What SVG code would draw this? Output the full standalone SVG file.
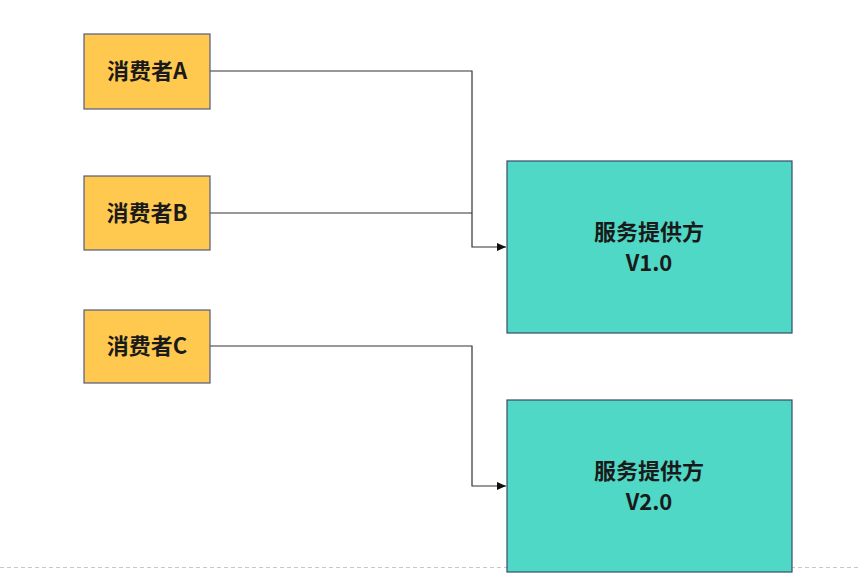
<svg xmlns="http://www.w3.org/2000/svg" width="861" height="573" viewBox="0 0 861 573">
<style>
.c{fill:#ffc94f;stroke:#545b80;stroke-width:1.2}
.p{fill:#4fd8c5;stroke:#3a4a6a;stroke-width:1.2}
.t{font-family:"Noto Sans CJK SC","Liberation Sans",sans-serif;font-weight:bold;font-size:22px;fill:#1a1a1a;text-anchor:middle}
.l{fill:none;stroke:#333;stroke-width:1.2}
</style>
<defs>
<marker id="ar" markerWidth="10" markerHeight="8" refX="9" refY="4" orient="auto" markerUnits="userSpaceOnUse">
<path d="M0,0 L9,4 L0,8 Z" fill="#111"/>
</marker>
</defs>
<rect width="861" height="573" fill="#fff"/>
<line x1="0" y1="567.5" x2="861" y2="567.5" stroke="#c8c8c8" stroke-dasharray="4,3"/>
<g id="connectors">
<path class="l" d="M210,71 H472 V247 H506" marker-end="url(#ar)"/>
<path class="l" d="M210,213 H472"/>
<path class="l" d="M210,346 H472 V486 H506" marker-end="url(#ar)"/>
</g>
<g id="consumerA"><rect class="c" x="84" y="34" width="126" height="75"/><text class="t" x="147" y="79">消费者A</text></g>
<g id="consumerB"><rect class="c" x="84" y="176" width="126" height="74"/><text class="t" x="147" y="221">消费者B</text></g>
<g id="consumerC"><rect class="c" x="84" y="310" width="126" height="73"/><text class="t" x="147" y="354">消费者C</text></g>
<g id="provider1"><rect class="p" x="507" y="161" width="285" height="172"/><text class="t" x="649" y="240">服务提供方</text><text class="t" x="649" y="271">V1.0</text></g>
<g id="provider2"><rect class="p" x="507" y="400" width="285" height="172"/><text class="t" x="649" y="479">服务提供方</text><text class="t" x="649" y="510">V2.0</text></g>
</svg>
